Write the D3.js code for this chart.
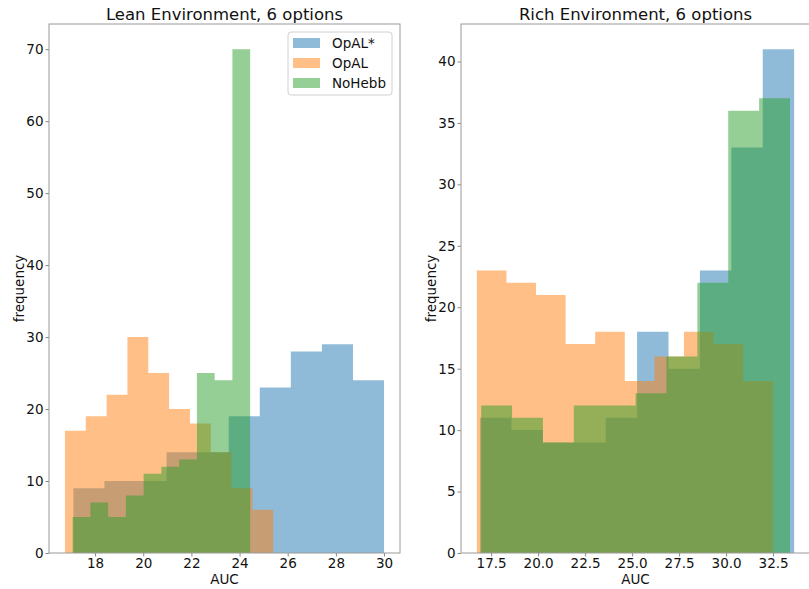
<!DOCTYPE html>
<html lang="en">
<head>
<meta charset="UTF-8">
<script src="https://d3js.org/d3.v7.min.js"></script>
<style>
  body { margin: 0; background: #fff; }
  text { font-family: "DejaVu Sans", sans-serif; fill: #111; }
</style>
</head>
<body>
<svg id="chart" width="809" height="589"></svg>
<script>
// series names + colours (matplotlib tab10 defaults)
const seriesNames = ["OpAL*", "OpAL", "NoHebb"];
const seriesColors = ["#1f77b4", "#ff7f0e", "#2ca02c"];

// Lean environment: [min, max] of each histogram and its 10 bin counts
const leanOpalStarRange = [17.1, 30.0];
const leanOpalStarCounts = [9, 10, 10, 14, 14, 19, 23, 28, 29, 24];
const leanOpalRange = [16.75, 25.4];
const leanOpalCounts = [17, 19, 22, 30, 25, 20, 18, 14, 9, 6];
const leanNoHebbRange = [17.07, 24.44];
const leanNoHebbCounts = [5, 7, 5, 8, 11, 12, 13, 25, 24, 70];

// Rich environment
const richOpalStarRange = [16.91, 33.62];
const richOpalStarCounts = [11, 10, 9, 9, 11, 18, 15, 23, 33, 41];
const richOpalRange = [16.74, 32.48];
const richOpalCounts = [23, 22, 21, 17, 18, 14, 16, 18, 17, 14];
const richNoHebbRange = [16.97, 33.40];
const richNoHebbCounts = [12, 11, 9, 12, 12, 13, 16, 22, 36, 37];

// tick labels
const leanXTicks = [18, 20, 22, 24, 26, 28, 30];
const leanYTicks = [0, 10, 20, 30, 40, 50, 60, 70];
const richXTicks = [17.5, 20.0, 22.5, 25.0, 27.5, 30.0, 32.5];
const richYTicks = [0, 5, 10, 15, 20, 25, 30, 35, 40];

const svg = d3.select("#chart");
const plotTop = 24, plotBottom = 553;

function panel(opts) {
    const ranges = opts.ranges, counts = opts.counts;
    // matplotlib-like 5% margins
    const lo = d3.min(ranges, r => r[0]), hi = d3.max(ranges, r => r[1]);
    const pad = (hi - lo) * 0.05;
    const ymax = d3.max(counts, c => d3.max(c)) * 1.05;

    const x = d3.scaleLinear().domain([lo - pad, hi + pad]).range([opts.left, opts.right]);
    const y = d3.scaleLinear().domain([0, ymax]).range([plotBottom, plotTop]);

    const g = svg.append("g");
    g.append("defs").append("clipPath").attr("id", "clip" + opts.id)
        .append("rect").attr("x", opts.left).attr("y", plotTop)
        .attr("width", opts.right - opts.left).attr("height", plotBottom - plotTop);

    const area = d3.area()
        .x(d => x(d[0]))
        .y0(y(0))
        .y1(d => y(d[1]))
        .curve(d3.curveStepAfter);

    ranges.forEach((r, i) => {
        const edges = d3.range(11).map(k => r[0] + k * (r[1] - r[0]) / 10);
        const pts = counts[i].map((c, k) => [edges[k], c]);
        pts.push([edges[10], counts[i][9]]);
        g.append("path")
            .attr("d", area(pts))
            .attr("fill", seriesColors[i])
            .attr("fill-opacity", 0.5)
            .attr("clip-path", "url(#clip" + opts.id + ")");
    });

    // axes
    const xAxis = d3.axisBottom(x).tickValues(opts.xTicks).tickSize(3.5).tickPadding(2)
        .tickFormat(opts.xFormat);
    const yAxis = d3.axisLeft(y).tickValues(opts.yTicks).tickSize(3.5).tickPadding(2)
        .tickFormat(d3.format("d"));
    const gx = g.append("g").attr("transform", `translate(0,${plotBottom})`).call(xAxis);
    const gy = g.append("g").attr("transform", `translate(${opts.left},0)`).call(yAxis);
    [gx, gy].forEach(a => {
        a.select(".domain").remove();
        a.selectAll("line").attr("stroke", "#888");
        a.selectAll("text").style("font-size", "13.5px").attr("fill", "#111");
    });

    // frame
    g.append("rect")
        .attr("x", opts.left).attr("y", plotTop)
        .attr("width", opts.right - opts.left).attr("height", plotBottom - plotTop)
        .attr("fill", "none").attr("stroke", "#9a9a9a").attr("stroke-width", 1);

    // labels
    g.append("text")
        .attr("x", (opts.left + opts.right) / 2).attr("y", 20)
        .attr("text-anchor", "middle").style("font-size", "16.5px")
        .text(opts.title);
    g.append("text")
        .attr("x", (opts.left + opts.right) / 2).attr("y", 584)
        .attr("text-anchor", "middle").style("font-size", "13.5px")
        .text("AUC");
    g.append("text")
        .attr("transform", `translate(${opts.left - 25},${(plotTop + plotBottom) / 2}) rotate(-90)`)
        .attr("text-anchor", "middle").style("font-size", "13.5px")
        .text("frequency");

    return g;
}

const lean = panel({
    id: "lean", left: 49, right: 400,
    ranges: [leanOpalStarRange, leanOpalRange, leanNoHebbRange],
    counts: [leanOpalStarCounts, leanOpalCounts, leanNoHebbCounts],
    xTicks: leanXTicks, yTicks: leanYTicks, xFormat: d3.format("d"),
    title: "Lean Environment, 6 options"
});

panel({
    id: "rich", left: 461, right: 810,
    ranges: [richOpalStarRange, richOpalRange, richNoHebbRange],
    counts: [richOpalStarCounts, richOpalCounts, richNoHebbCounts],
    xTicks: richXTicks, yTicks: richYTicks, xFormat: d3.format(".1f"),
    title: "Rich Environment, 6 options"
});

// legend in the lean panel
const legend = lean.append("g").attr("transform", "translate(288,32)");
legend.append("rect")
    .attr("width", 104).attr("height", 63).attr("rx", 3)
    .attr("fill", "#fff").attr("fill-opacity", 0.8)
    .attr("stroke", "#d0d0d0");
seriesNames.forEach((name, i) => {
    const row = legend.append("g").attr("transform", `translate(0,${11 + i * 20})`);
    row.append("rect")
        .attr("x", 5).attr("y", -5).attr("width", 27).attr("height", 10)
        .attr("fill", seriesColors[i]).attr("fill-opacity", 0.5);
    row.append("text")
        .attr("x", 44).attr("y", 0).attr("dy", "0.35em")
        .style("font-size", "13.5px")
        .text(name);
});
</script>
</body>
</html>
